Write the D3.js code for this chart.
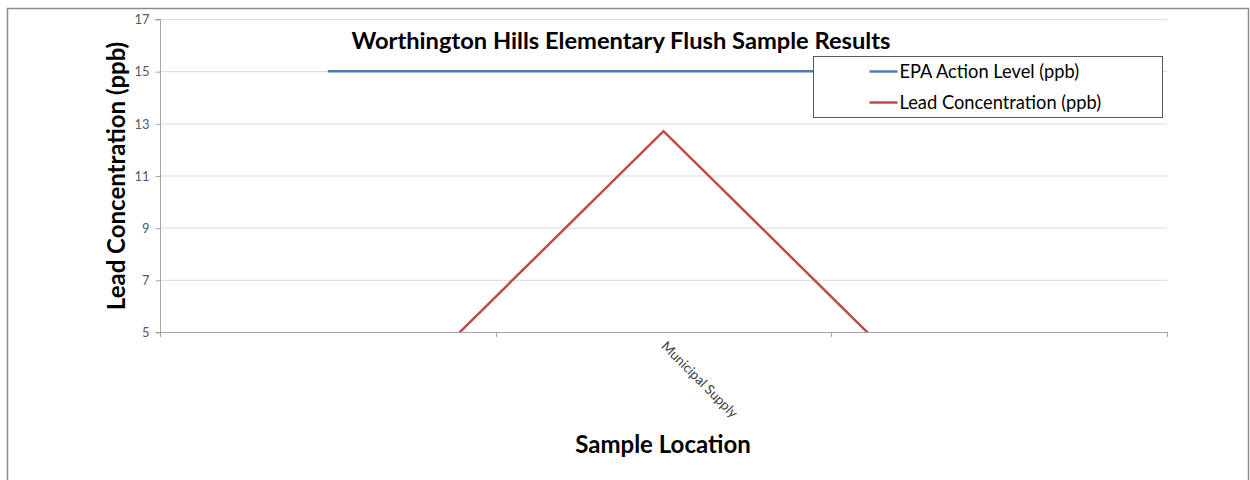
<!DOCTYPE html>
<html lang="en">
<head>
<meta charset="UTF-8">
<title>Worthington Hills Elementary Flush Sample Results</title>
<script src="https://cdn.jsdelivr.net/npm/d3@7"></script>
<style>
  body { margin: 0; background: #fff; }
  text { font-family: Lato, "Open Sans", sans-serif; }
</style>
</head>
<body>
<svg id="chart" width="1250" height="480"></svg>
<script>
// sample locations (only the middle one carries a label)
var locations = ["", "Municipal Supply", ""];
var epaLevel = [15, 15, 15];
var leadConc = [0, 12.7, 0];
var yTicks = [5, 7, 9, 11, 13, 15, 17];
var seriesNames = ["EPA Action Level (ppb)", "Lead Concentration (ppb)"];
var seriesColors = ["#4a7ebb", "#be4b48"];

var margin = {t: 19, l: 160, r: 83, b: 148};
var W = 1250, H = 480;
var svg = d3.select("#chart");

// outer frame
svg.append("rect").attr("x", 7.5).attr("y", 8.5).attr("width", 1241).attr("height", 480)
   .attr("fill", "none").attr("stroke", "#8c8c8c").attr("stroke-width", 1.5);

var x = d3.scaleBand().domain(d3.range(locations.length))
    .range([margin.l, W - margin.r]);
var y = d3.scaleLinear().domain([5, 17]).range([H - margin.b, margin.t]);

var g = svg.append("g");

// grid lines
g.selectAll("line.grid").data(yTicks).enter().append("line")
  .attr("x1", margin.l).attr("x2", W - margin.r)
  .attr("y1", d => y(d) + 0.5).attr("y2", d => y(d) + 0.5)
  .attr("stroke", "#d9d9d9").attr("stroke-width", 1);

// y axis
var yAxis = d3.axisLeft(y).tickValues(yTicks).tickSize(5).tickPadding(6);
var ya = g.append("g").attr("transform", "translate(" + (margin.l + 0.5) + ",0.5)").call(yAxis);
ya.select(".domain").attr("stroke", "#a6a6a6").attr("d", "M-5," + (H - margin.b) + "H0V" + margin.t + "H-5");
ya.selectAll(".tick line").attr("stroke", "#a6a6a6");
ya.selectAll(".tick text").attr("fill", "#595959").style("font-size", "13px");

// x axis: tick marks at band boundaries
var xa = g.append("g");
xa.append("line").attr("x1", margin.l).attr("x2", W - margin.r)
  .attr("y1", y(5) + 0.5).attr("y2", y(5) + 0.5).attr("stroke", "#a6a6a6");
var bounds = d3.range(locations.length + 1).map(i => margin.l + i * x.bandwidth());
xa.selectAll("line.tk").data(bounds).enter().append("line")
  .attr("x1", d => Math.round(d) + 0.5).attr("x2", d => Math.round(d) + 0.5)
  .attr("y1", y(5)).attr("y2", y(5) + 5).attr("stroke", "#a6a6a6");
xa.selectAll("text").data(locations).enter().append("text")
  .attr("transform", (d, i) => "translate(" + (x(i) + x.bandwidth() / 2 - 3) + "," + (y(5) + 15) + ") rotate(45)")
  .attr("fill", "#404040").style("font-size", "13.5px").text(d => d);

// lines, clipped to the plot area
svg.append("clipPath").attr("id", "plot").append("rect")
  .attr("x", margin.l).attr("y", margin.t).attr("width", W - margin.r - margin.l).attr("height", y(5) - margin.t);
var line = d3.line().x((d, i) => x(i) + x.bandwidth() / 2).y(d => y(d));
var lines = svg.append("g").attr("clip-path", "url(#plot)");
[epaLevel, leadConc].forEach(function (s, k) {
  lines.append("path").datum(s).attr("d", line).attr("fill", "none")
    .attr("stroke", seriesColors[k]).attr("stroke-width", 2.5);
});

// title
svg.append("text").attr("x", 621).attr("y", 49).attr("text-anchor", "middle")
  .style("font-size", "23.7px").style("font-weight", "bold").attr("fill", "#000")
  .text("Worthington Hills Elementary Flush Sample Results");

// axis titles
svg.append("text").attr("transform", "translate(125,176) rotate(-90)").attr("text-anchor", "middle")
  .style("font-size", "24px").style("font-weight", "bold").text("Lead Concentration (ppb)");
svg.append("text").attr("x", 663).attr("y", 453).attr("text-anchor", "middle")
  .style("font-size", "24px").style("font-weight", "bold").text("Sample Location");

// legend
var lg = svg.append("g").attr("transform", "translate(813.5,56.5)");
lg.append("rect").attr("width", 349).attr("height", 61).attr("fill", "#fff").attr("stroke", "#595959");
seriesNames.forEach(function (n, k) {
  var yy = 15 + k * 31;
  lg.append("line").attr("x1", 56).attr("x2", 84).attr("y1", yy).attr("y2", yy)
    .attr("stroke", seriesColors[k]).attr("stroke-width", 2.5);
  lg.append("text").attr("x", 86).attr("y", yy + 6).style("font-size", "18.3px").attr("fill", "#000").text(n);
});
</script>
</body>
</html>
